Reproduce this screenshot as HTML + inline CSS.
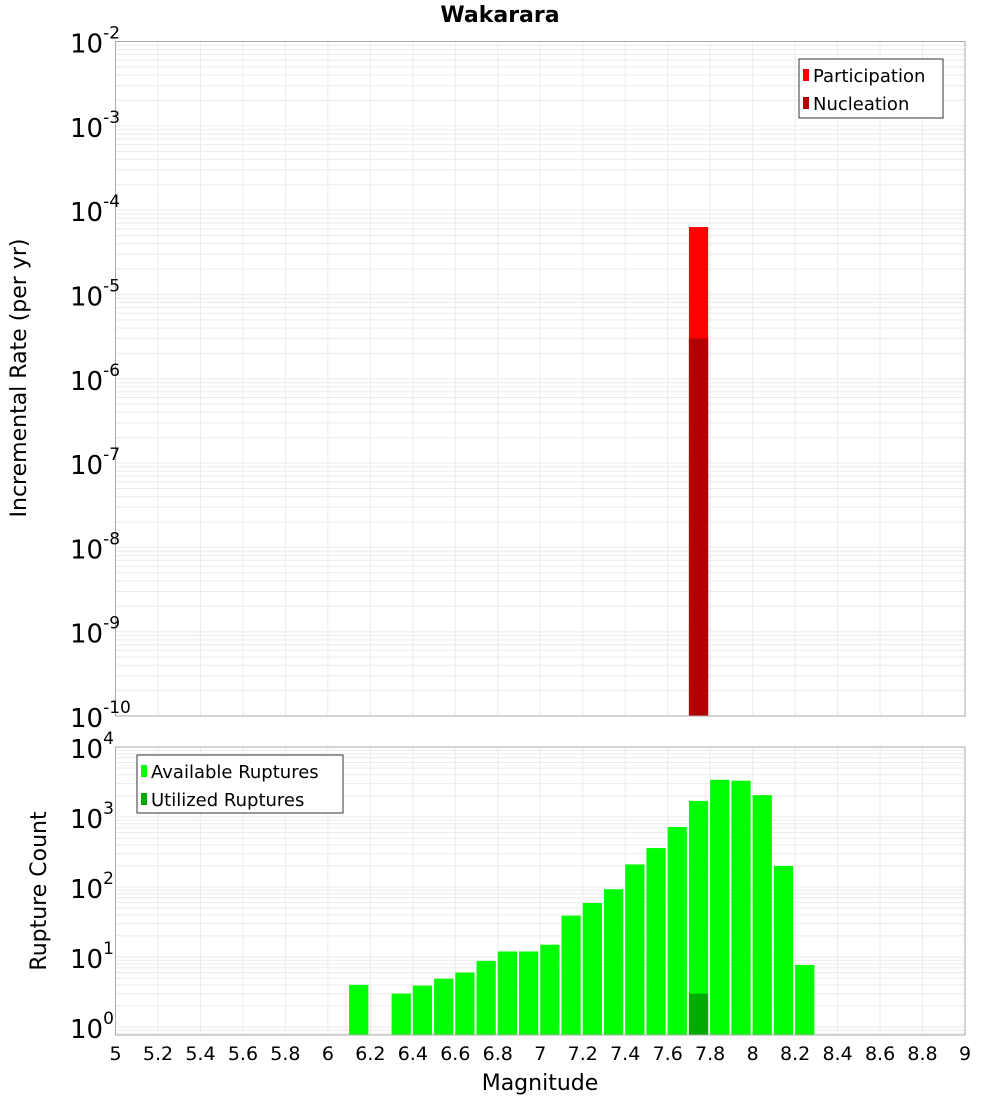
<!DOCTYPE html>
<html><head><meta charset="utf-8"><style>
body{margin:0;background:#fff;}
svg{display:block;font-family:"Liberation Sans","DejaVu Sans",sans-serif;}
</style></head><body>
<svg id="chart" width="1000" height="1100" xmlns="http://www.w3.org/2000/svg">
<text x="500" y="22" text-anchor="middle" font-size="22" font-weight="bold" font-family="DejaVu Sans,sans-serif">Wakarara</text>
<text transform="translate(26,378) rotate(-90)" text-anchor="middle" font-size="22" font-family="DejaVu Sans,sans-serif">Incremental Rate (per yr)</text>
<text transform="translate(46,891) rotate(-90)" text-anchor="middle" font-size="22" font-family="DejaVu Sans,sans-serif">Rupture Count</text>
<text x="540" y="1090" text-anchor="middle" font-size="22" font-family="DejaVu Sans,sans-serif">Magnitude</text>
<g id="topPlot"></g><g id="botPlot"></g><g id="xTickGroup"></g>
</svg>
<script>
const rateBins=[7.75];
const participation=[6.3e-5];
const nucleation=[3.0e-6];
const countBins=[6.15,6.35,6.45,6.55,6.65,6.75,6.85,6.95,7.05,7.15,7.25,7.35,7.45,7.55,7.65,7.75,7.85,7.95,8.05,8.15,8.25];
const available=[4,3,3.9,4.9,6,8.8,12,12,15,39,59,93,210,360,720,1700,3400,3300,2050,200,7.7];
const utilizedBins=[7.75];
const utilized=[3];
const xTicks=[5,5.2,5.4,5.6,5.8,6,6.2,6.4,6.6,6.8,7,7.2,7.4,7.6,7.8,8,8.2,8.4,8.6,8.8,9];
const topExps=[-2,-3,-4,-5,-6,-7,-8,-9,-10];
const botExps=[4,3,2,1,0];

const NS="http://www.w3.org/2000/svg";
const X0=115.5,X1=965,XMIN=5,XMAX=9;
const xs=m=>X0+(m-XMIN)/(XMAX-XMIN)*(X1-X0);
const T0=41.5,T1=716,ytop=v=>T0+(-2-Math.log10(v))/8*(T1-T0);
const B0=747,BDEC=70,ybot=v=>B0+(4-Math.log10(v))*BDEC,B1=1035;
function el(p,tag,a){const e=document.createElementNS(NS,tag);for(const k in a)e.setAttribute(k,a[k]);p.appendChild(e);return e;}
function grid(g,yf,lo,hi,y0,y1){
  for(let e=lo;e<hi;e++)for(let k=1;k<10;k++){const y=yf(k*Math.pow(10,e));if(y<y0-0.5||y>y1+0.5)continue;
    const l=el(g,'line',{x1:X0,x2:X1,y1:y,y2:y,stroke:'#ebebeb','stroke-width':1});
    
    }
  xTicks.forEach(t=>{const x=xs(t);const l=el(g,'line',{x1:x,x2:x,y1:y0,y2:y1,stroke:'#ebebeb','stroke-width':1});
    
    });
}
const gTop=document.getElementById('topPlot'),gBot=document.getElementById('botPlot'),gX=document.getElementById('xTickGroup');
grid(gTop,ytop,-10,-2,T0,T1);
grid(gBot,ybot,-1,4,B0,B1);
const bw=(X1-X0)/40;
rateBins.forEach((m,i)=>{
  let r=el(gTop,'rect',{x:xs(m-0.05),y:ytop(participation[i]),width:bw-2,height:T1-ytop(participation[i]),fill:'#ff0000'});
  
  
  r=el(gTop,'rect',{x:xs(m-0.05),y:ytop(nucleation[i]),width:bw-2,height:T1-ytop(nucleation[i]),fill:'#b30000'});
  
  
});
countBins.forEach((m,i)=>{
  const y=ybot(available[i]);
  const r=el(gBot,'rect',{x:xs(m-0.05),y:y,width:bw-2,height:B1-y,fill:'#00ff00'});
  
  
});
utilizedBins.forEach((m,i)=>{
  const y=ybot(utilized[i]);
  const r=el(gBot,'rect',{x:xs(m-0.05),y:y,width:bw-2,height:B1-y,fill:'#00aa00'});
  
  
});
let f=el(gTop,'rect',{x:X0,y:T0,width:X1-X0,height:T1-T0,fill:'none',stroke:'#aaa','stroke-width':1});


f=el(gBot,'rect',{x:X0,y:B0,width:X1-X0,height:B1-B0,fill:'none',stroke:'#aaa','stroke-width':1});


function ylab(g,y,e,name){
  const t=el(g,'text',{x:70,y:y+11,'text-anchor':'start','font-size':26,'font-family':'DejaVu Sans,sans-serif'});
  
  
  const a=document.createElementNS(NS,'tspan');a.textContent='10';t.appendChild(a);
  const b=document.createElementNS(NS,'tspan');b.setAttribute('dy','-14');b.setAttribute('font-size','17');b.textContent=String(e);t.appendChild(b);
}
topExps.forEach(e=>ylab(gTop,ytop(Math.pow(10,e)),e,'top-y-tick-label'));
botExps.forEach(e=>ylab(gBot,ybot(Math.pow(10,e)),e,'bottom-y-tick-label'));
xTicks.forEach(t=>{const x=xs(t);const s=el(gX,'text',{x:x,y:1060,'text-anchor':'middle','font-size':19,'font-family':'DejaVu Sans,sans-serif'});
  s.textContent=String(t);
  
  });
function legend(g,x,y,w,h,items,name){
  const lg=el(g,'g',{});
  
  
  el(lg,'rect',{x:x,y:y,width:w,height:h,fill:'#fff',stroke:'#333','stroke-width':1});
  items.forEach((it,i)=>{
    const sw=el(lg,'rect',{x:x+4,y:y+10+i*28,width:6,height:12,fill:it[1]});
    
    
    const t=el(lg,'text',{x:x+14,y:y+23+i*28,'font-size':18,'font-family':'DejaVu Sans,sans-serif'});
    t.textContent=it[0];
    
    
  });
}
legend(gTop,799,59,144,59,[['Participation','#ff0000'],['Nucleation','#b30000']],'top-legend');
legend(gBot,137,755,206,58,[['Available Ruptures','#00ff00'],['Utilized Ruptures','#00aa00']],'bottom-legend');
</script>
</body></html>
